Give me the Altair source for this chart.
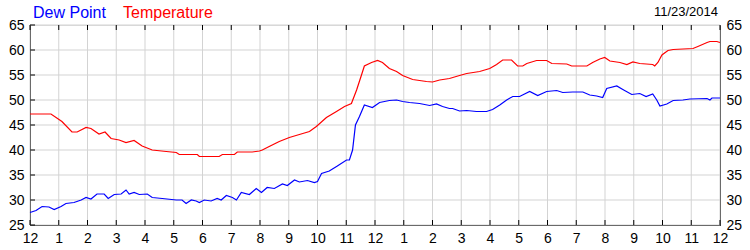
import json
import altair as alt
import pandas as pd

# ---- data (hours since midnight, degrees F) ----
temp_hours = [0, 0.73, 1.11, 1.46, 1.64, 1.95, 2.12, 2.40, 2.61, 2.82, 3.10, 3.34, 3.62, 3.90,
              4.25, 4.74, 5.09, 5.19, 5.82, 5.89, 6.58, 6.69, 7.11, 7.21, 7.73, 7.98, 8.08,
              8.32, 8.67, 9.02, 9.37, 9.72, 9.96, 10.31, 10.66, 10.94, 11.18, 11.36, 11.53,
              11.63, 11.88, 12.09, 12.26, 12.50, 12.75, 12.96, 13.31, 13.79, 14.00, 14.25,
              14.59, 14.94, 15.19, 15.64, 15.99, 16.23, 16.44, 16.75, 16.96, 17.14, 17.28,
              17.62, 17.97, 18.15, 18.67, 18.84, 19.37, 19.57, 19.82, 19.99, 20.17, 20.52,
              20.76, 20.97, 21.21, 21.66, 21.73, 21.84, 21.98, 22.19, 22.37, 23.06, 23.23,
              23.55, 23.65, 23.89, 24.00]
temp_values = [47.2, 47.2, 45.7, 43.6, 43.6, 44.5, 44.3, 43.2, 43.6, 42.3, 42.0, 41.5, 41.9, 40.8,
               40.0, 39.7, 39.5, 39.1, 39.1, 38.7, 38.7, 39.1, 39.1, 39.6, 39.6, 39.8, 40.0,
               40.7, 41.7, 42.5, 43.1, 43.7, 44.7, 46.5, 47.7, 48.7, 49.3, 52.0, 55.0,
               56.8, 57.5, 57.9, 57.5, 56.3, 55.7, 54.9, 54.1, 53.7, 53.6, 54.0,
               54.3, 54.9, 55.3, 55.7, 56.3, 57.1, 58.0, 58.0, 56.8, 56.8, 57.3,
               57.9, 57.9, 57.3, 57.2, 56.8, 56.8, 57.5, 58.2, 58.5, 57.8, 57.5,
               57.1, 57.6, 57.3, 57.1, 56.8, 57.5, 59.0, 59.9, 60.1, 60.3, 60.7,
               61.5, 61.7, 61.7, 61.5]

dew_hours = [0, 0.21, 0.42, 0.66, 0.84, 1.08, 1.25, 1.53, 1.78, 1.95, 2.12, 2.33, 2.58, 2.72,
             2.93, 3.17, 3.34, 3.45, 3.62, 3.80, 4.08, 4.25, 4.60, 5.09, 5.29, 5.43, 5.61,
             5.78, 5.89, 6.06, 6.30, 6.51, 6.65, 6.83, 7.04, 7.18, 7.35, 7.63, 7.87, 8.05,
             8.25, 8.50, 8.78, 8.95, 9.20, 9.37, 9.65, 9.89, 10.00, 10.14, 10.41, 10.69,
             11.01, 11.11, 11.22, 11.32, 11.46, 11.63, 11.91, 12.16, 12.50, 12.75, 12.96,
             13.20, 13.55, 13.90, 14.14, 14.35, 14.59, 14.70, 14.94, 15.19, 15.53, 15.88,
             16.09, 16.34, 16.58, 16.79, 17.03, 17.38, 17.66, 17.97, 18.32, 18.53, 18.88,
             19.23, 19.47, 19.71, 19.92, 20.06, 20.41, 20.62, 20.93, 21.21, 21.43, 21.66,
             21.80, 21.91, 22.15, 22.37, 22.71, 22.95, 23.55, 23.65, 23.72, 24.00]
dew_values = [27.5, 27.9, 28.7, 28.6, 28.1, 28.7, 29.3, 29.5, 30.0, 30.5, 30.2, 31.2, 31.2, 30.3,
              31.1, 31.2, 32.0, 31.2, 31.5, 31.1, 31.2, 30.5, 30.3, 30.0, 30.0, 29.3, 30.0,
              29.8, 29.5, 30.0, 29.8, 30.3, 30.0, 30.9, 30.5, 30.0, 31.5, 31.1, 32.3, 31.5,
              32.5, 32.3, 33.2, 32.9, 34.0, 33.6, 33.9, 33.5, 33.7, 35.3, 35.8, 36.8,
              38.0, 38.0, 40.0, 45.0, 46.7, 49.0, 48.5, 49.5, 49.9, 50.0, 49.7,
              49.5, 49.3, 48.9, 49.2, 48.7, 48.3, 48.3, 47.8, 47.9, 47.7, 47.7,
              48.1, 49.0, 50.0, 50.7, 50.7, 51.7, 50.9, 51.7, 51.9, 51.5, 51.6,
              51.6, 51.0, 50.8, 50.5, 52.3, 52.8, 52.1, 51.1, 51.3, 50.7, 51.2,
              50.0, 48.8, 49.2, 49.9, 50.0, 50.2, 50.3, 50.0, 50.4, 50.4]

hour_ticks = list(range(0, 25))
hour_labels = ["12", "1", "2", "3", "4", "5", "6", "7", "8", "9", "10", "11",
               "12", "1", "2", "3", "4", "5", "6", "7", "8", "9", "10", "11", "12"]
y_ticks = [25, 30, 35, 40, 45, 50, 55, 60, 65]
series_names = ["Dew Point", "Temperature"]
date_label = "11/23/2014"

temp_df = pd.DataFrame({"hour": temp_hours, "value": temp_values})
dew_df = pd.DataFrame({"hour": dew_hours, "value": dew_values})
tick_df = pd.DataFrame({"hour": hour_ticks})
ytick_df = pd.DataFrame({"value": y_ticks})

FONT = "Arial, Liberation Sans"
W, H = 690, 200
GRID = "#d3d3d3"

xscale = alt.Scale(domain=[0, 24], nice=False, zero=False)
yscale = alt.Scale(domain=[25, 65], nice=False, zero=False)

x_axis = alt.Axis(values=hour_ticks, labelExpr=f"{json.dumps(hour_labels)}[datum.value]",
                  title=None, grid=False, ticks=False, labelPadding=6,
                  labelFont=FONT, labelFontSize=14, labelColor="#000", domainColor="#000",
                  labelFlush=False)
y_left = alt.Axis(values=y_ticks, title=None, grid=False, orient="left",
                  ticks=False, labelPadding=6, labelFont=FONT, labelFontSize=14,
                  labelColor="#000", domainColor="#000", labelFlush=False)
y_right = alt.Axis(values=y_ticks, title=None, grid=False, orient="right",
                   ticks=False, labelPadding=6, labelFont=FONT, labelFontSize=14,
                   labelColor="#000", domainColor="#000", labelFlush=False)

X = alt.X("hour:Q", scale=xscale, axis=x_axis)

# manual grid
vgrid = alt.Chart(tick_df).mark_rule(color=GRID, strokeWidth=1).encode(
    x=X, y=alt.value(0), y2=alt.value(H))
hgrid = alt.Chart(ytick_df).mark_rule(color=GRID, strokeWidth=1).encode(
    y=alt.Y("value:Q", scale=yscale, axis=y_left), x=alt.value(0), x2=alt.value(W))

temp_line = alt.Chart(temp_df).mark_line(color="#ff0000", strokeWidth=1.2).encode(
    x=X,
    y=alt.Y("value:Q", scale=yscale, axis=y_left),
)
dew_line = alt.Chart(dew_df).mark_line(color="#0000ff", strokeWidth=1.2).encode(
    x=X,
    y=alt.Y("value:Q", scale=yscale, axis=y_left),
)

bottom_ticks = alt.Chart(tick_df).mark_rule(color="#000", strokeWidth=1).encode(
    x=X, y=alt.value(H), y2=alt.value(H - 5))
top_ticks = alt.Chart(tick_df).mark_rule(color="#000", strokeWidth=1).encode(
    x=X, y=alt.value(0), y2=alt.value(5))
left_ticks = alt.Chart(ytick_df).mark_rule(color="#000", strokeWidth=1).encode(
    y=alt.Y("value:Q", scale=yscale, axis=y_left), x=alt.value(0), x2=alt.value(5))

# right-hand axis carrier (invisible points on the same values)
right_axis = alt.Chart(ytick_df).mark_point(opacity=0).encode(
    x=alt.value(W), y=alt.Y("value:Q", scale=yscale, axis=y_right))

title_df = pd.DataFrame({"t": [0]})
dew_title = alt.Chart(title_df).mark_text(
    text=series_names[0], color="#0000ff", font=FONT, fontSize=16, align="left",
    baseline="alphabetic").encode(x=alt.value(3), y=alt.value(-7))
temp_title = alt.Chart(title_df).mark_text(
    text=series_names[1], color="#ff0000", font=FONT, fontSize=16, align="left",
    baseline="alphabetic").encode(x=alt.value(93), y=alt.value(-7))
date_text = alt.Chart(title_df).mark_text(
    text=date_label, color="#000", font=FONT, fontSize=13, align="right",
    baseline="alphabetic").encode(x=alt.value(688), y=alt.value(-9))

main = alt.layer(vgrid, hgrid, temp_line, dew_line, bottom_ticks, top_ticks, left_ticks)

chart = alt.layer(
    main, right_axis, dew_title, temp_title, date_text
).resolve_scale(y="independent").properties(
    width=W, height=H,
    autosize=alt.AutoSizeParams(type="none"),
    padding={"left": 30, "top": 25, "right": 30, "bottom": 25},
).configure_view(stroke="#000", strokeWidth=1).configure(background="white")

chart.save("out.html", embed_options={"renderer": "svg", "actions": False})
